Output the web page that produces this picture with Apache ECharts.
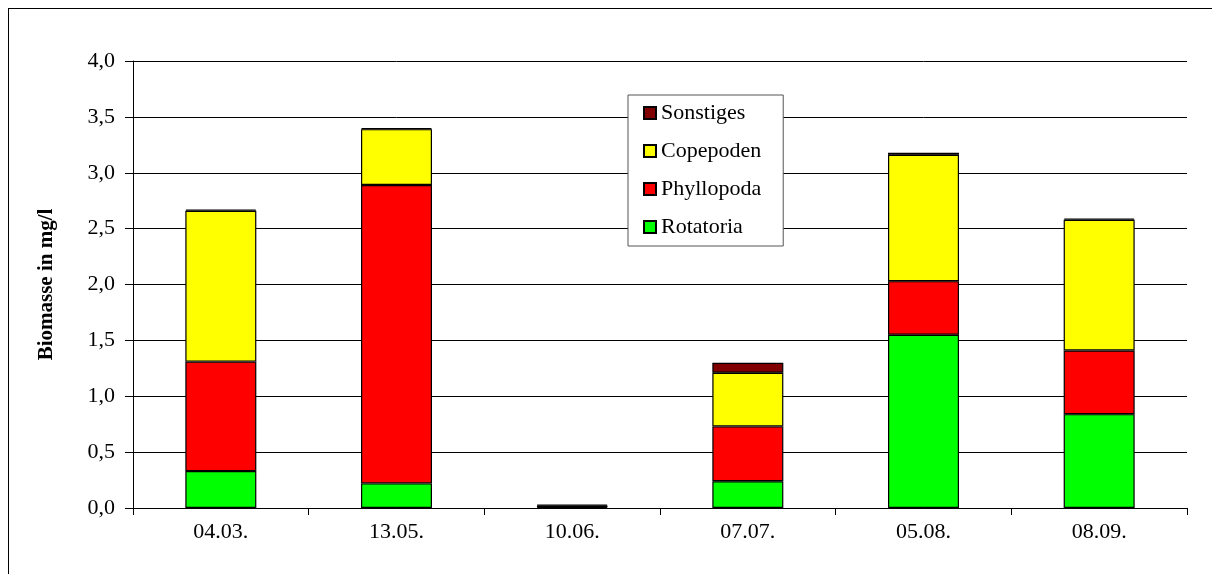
<!DOCTYPE html>
<html>
<head>
<meta charset="utf-8">
<script src="https://cdn.jsdelivr.net/npm/echarts@6/dist/echarts.min.js"></script>
<style>
  html, body { margin: 0; padding: 0; background: #fff; }
  #frame { position: absolute; left: 8px; top: 8px; width: 1212px; height: 574px; border: 1px solid #000; box-sizing: border-box; }
  #chart { position: absolute; left: 0; top: 0; width: 1212px; height: 574px; }
</style>
</head>
<body>
<div id="frame"></div>
<div id="chart"></div>
<script>
// Probenahmetermine
const dates = ['04.03.', '13.05.', '10.06.', '07.07.', '05.08.', '08.09.']
// Biomasse in mg/l je Gruppe
const rotatoria = [0.33, 0.22, 0.01, 0.24, 1.55, 0.84]
const phyllopoda = [0.98, 2.67, 0.005, 0.49, 0.48, 0.57]
const copepoden = [1.35, 0.50, 0.005, 0.48, 1.13, 1.17]
const sonstiges = [0.01, 0.01, 0.01, 0.09, 0.02, 0.01]

const font = 'Liberation Serif, Times New Roman, serif'

const barSeries = (name, data, color) => ({
  name,
  type: 'bar',
  stack: 'total',
  data,
  barWidth: 71,
  itemStyle: { color, borderColor: '#000', borderWidth: 1.2 },
  emphasis: { disabled: true }
})

const chart = echarts.init(document.getElementById('chart'), null, { renderer: 'canvas' })

chart.setOption({
  animation: false,
  grid: { left: 133, right: 25, top: 61, bottom: 66 },
  legend: {
    orient: 'vertical',
    left: 628,
    top: 95,
    data: ['Sonstiges', 'Copepoden', 'Phyllopoda', 'Rotatoria'],
    icon: 'rect',
    itemWidth: 12,
    itemHeight: 12,
    itemGap: 16,
    padding: [7, 22, 8, 15],
    borderColor: '#555',
    borderWidth: 1,
    backgroundColor: '#fff',
    textStyle: { fontFamily: font, fontSize: 22, color: '#000', padding: [0, 0, 0, 0] }
  },
  xAxis: {
    type: 'category',
    data: dates,
    axisLine: { lineStyle: { color: '#000', width: 1 } },
    axisTick: { show: true, alignWithLabel: false, length: 7, lineStyle: { color: '#000' } },
    axisLabel: { fontFamily: font, fontSize: 22, color: '#000', margin: 13 }
  },
  yAxis: {
    type: 'value',
    min: 0,
    max: 4,
    interval: 0.5,
    name: 'Biomasse in mg/l',
    nameLocation: 'middle',
    nameGap: 76,
    nameTextStyle: { fontFamily: font, fontSize: 21, fontWeight: 'bold', color: '#000' },
    axisLine: { show: true, lineStyle: { color: '#000', width: 1 } },
    axisTick: { show: true, length: 8, lineStyle: { color: '#000' } },
    axisLabel: {
      fontFamily: font, fontSize: 22, color: '#000', margin: 18,
      formatter: v => v.toFixed(1).replace('.', ',')
    },
    splitLine: { show: true, lineStyle: { color: '#000', width: 1 } }
  },
  series: [
    barSeries('Rotatoria', rotatoria, '#00ff00'),
    barSeries('Phyllopoda', phyllopoda, '#ff0000'),
    barSeries('Copepoden', copepoden, '#ffff00'),
    barSeries('Sonstiges', sonstiges, '#800000')
  ]
})
</script>
</body>
</html>
